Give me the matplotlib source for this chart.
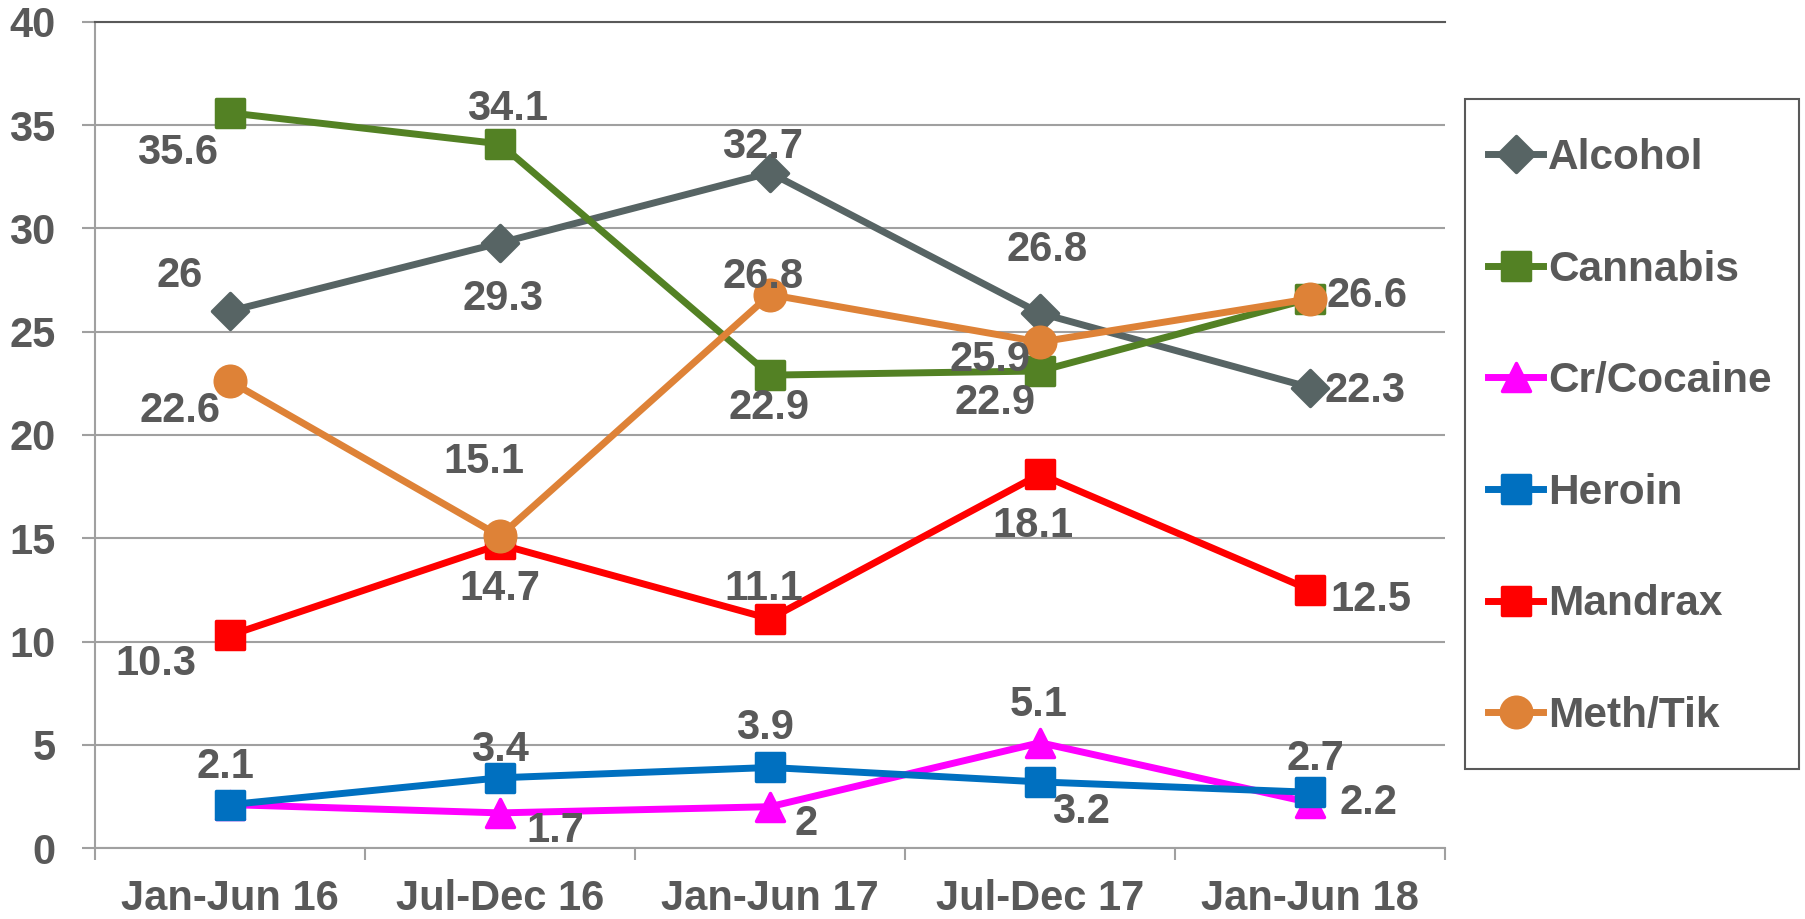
import matplotlib
matplotlib.use("Agg")
import matplotlib.pyplot as plt
from matplotlib.markers import MarkerStyle
from matplotlib.patches import Rectangle

categories = ["Jan-Jun 16", "Jul-Dec 16", "Jan-Jun 17", "Jul-Dec 17", "Jan-Jun 18"]
series_names = ["Alcohol", "Cannabis", "Cr/Cocaine", "Heroin", "Mandrax", "Meth/Tik"]
alcohol = [26, 29.3, 32.7, 25.9, 22.3]
cannabis = [35.6, 34.1, 22.9, 23.1, 26.6]
cocaine = [2.1, 1.7, 2.0, 5.1, 2.2]
heroin = [2.1, 3.4, 3.9, 3.2, 2.7]
mandrax = [10.3, 14.7, 11.1, 18.1, 12.5]
meth = [22.6, 15.1, 26.8, 24.5, 26.6]

# data label texts as printed on the chart
alcohol_lbl = ["26", "29.3", "32.7", "25.9", "22.3"]
cannabis_lbl = ["35.6", "34.1", "22.9", "22.9", ""]
cocaine_lbl = ["", "1.7", "2", "5.1", "2.2"]
heroin_lbl = ["2.1", "3.4", "3.9", "3.2", "2.7"]
mandrax_lbl = ["10.3", "14.7", "11.1", "18.1", "12.5"]
meth_lbl = ["22.6", "15.1", "26.8", "26.8", "26.6"]

yticks = [0, 5, 10, 15, 20, 25, 30, 35, 40]

# label offsets in pixels (dx right, dy down)
alcohol_off = [(-50, -35), (3, 56), (-7, -26), (-50, 47), (55, 3)]
cannabis_off = [(-52, 40), (8, -35), (-1, 33), (-45, 32), (0, 0)]
cocaine_off = [(0, 0), (55, 18), (36, 17), (-1, -38), (58, 0)]
heroin_off = [(-5, -38), (0, -28), (-5, -39), (41, 30), (5, -33)]
mandrax_off = [(-74, 29), (0, 45), (-6, -30), (-7, 52), (61, 10)]
meth_off = [(-50, 30), (-16, -74), (-7, -18), (7, -92), (57, -3)]

colors = ["#576464", "#538124", "#FF00FF", "#0070C0", "#FF0000", "#DE8237"]
markers = ["D", "s", "^", "s", "s", "o"]
msizes = [18, 20, 20, 20, 20, 22]
text_color = "#595959"

plt.rcParams["font.family"] = ["Liberation Sans", "DejaVu Sans"]
plt.rcParams["font.weight"] = "bold"

fig = plt.figure(figsize=(18.05, 9.19), dpi=100)
ax = fig.add_axes([95 / 1805, 1 - 848 / 919, 1350 / 1805, 826 / 919])

x = list(range(len(categories)))
data = [alcohol, cannabis, cocaine, heroin, mandrax, meth]
labels = [alcohol_lbl, cannabis_lbl, cocaine_lbl, heroin_lbl, mandrax_lbl, meth_lbl]
offs = [alcohol_off, cannabis_off, cocaine_off, heroin_off, mandrax_off, meth_off]

handles = []
for i, (name, vals) in enumerate(zip(series_names, data)):
    ms = MarkerStyle(markers[i], joinstyle="round")
    ln, = ax.plot(x, vals, color=colors[i], lw=5, marker=ms, markersize=msizes[i],
                  markeredgewidth=2.5, markeredgecolor=colors[i], markerfacecolor=colors[i],
                  zorder=3 + i, clip_on=False, solid_joinstyle="round")
    handles.append(ln)

for vals, lbls, off in zip(data, labels, offs):
    for xi, v, t, (dx, dy) in zip(x, vals, lbls, off):
        if t:
            ax.annotate(t, (xi, v), xytext=(dx, -dy), textcoords="offset pixels",
                        ha="center", va="center", fontsize=30, fontweight="bold",
                        color=text_color, zorder=20)

ax.set_xlim(-0.5, 4.5)
ax.set_ylim(0, 40)
ax.set_yticks(yticks)
ax.set_yticklabels([str(t) for t in yticks])
ax.set_xticks(x)
ax.set_xticklabels(categories)
ax.set_xticks([i - 0.5 for i in range(len(categories) + 1)], minor=True)

ax.tick_params(axis="y", length=9.4, width=1.5, color="#A0A0A0", pad=19,
               labelsize=30, labelcolor=text_color)
ax.tick_params(axis="x", which="major", length=0, pad=22, labelsize=30, labelcolor=text_color)
ax.tick_params(axis="x", which="minor", length=8.6, width=1.5, color="#A0A0A0")

ax.yaxis.grid(True, color="#A0A0A0", lw=1.5)
ax.set_axisbelow(True)
for s in ["left", "bottom"]:
    ax.spines[s].set_color("#A0A0A0")
    ax.spines[s].set_linewidth(1.5)
ax.spines["right"].set_visible(False)
ax.spines["top"].set_color("#595959")
ax.spines["top"].set_linewidth(1.5)

# legend frame
fig.patches.append(Rectangle((1465 / 1805, 1 - 769 / 919), 334 / 1805, 670 / 919,
                             transform=fig.transFigure, fill=False, edgecolor="#595959",
                             lw=1.5))
leg = fig.legend(handles, series_names, loc="center left",
                 bbox_to_anchor=(1488 / 1805, 1 - 437 / 919), frameon=False,
                 fontsize=30.5, labelspacing=1.69, handlelength=1.3, handletextpad=0.12,
                 borderpad=0, borderaxespad=0, labelcolor=text_color)
for t in leg.get_texts():
    t.set_fontweight("bold")

fig.savefig("out.png", dpi=100)
